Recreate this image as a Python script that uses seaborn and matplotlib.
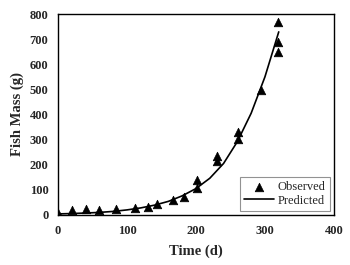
import matplotlib
matplotlib.use("Agg")
import matplotlib.pyplot as plt
import seaborn as sns
import pandas as pd

# Observed data
obs_time = [0, 20, 40, 60, 84, 111, 131, 144, 166, 183, 201, 201, 230, 230, 261, 261, 294, 319, 319, 319]
obs_mass = [7, 20, 23, 20, 23, 29, 32, 42, 60, 73, 106, 139, 216, 233, 301, 329, 497, 650, 687, 769]

# Predicted curve
pred_time = [0, 20, 40, 60, 80, 100, 120, 140, 160, 180, 200, 220, 240, 260, 280, 300, 320]
pred_mass = [4, 5.5, 7.5, 10, 14, 20, 28, 39, 54, 76, 105, 146, 205, 292, 405, 550, 729]

x_ticks = [0, 100, 200, 300, 400]
y_ticks = [0, 100, 200, 300, 400, 500, 600, 700, 800]

sns.set_style("white")
plt.rcParams['font.family'] = ['Liberation Serif', 'DejaVu Serif']

obs = pd.DataFrame({"t": obs_time, "m": obs_mass})
pred = pd.DataFrame({"t": pred_time, "m": pred_mass})

fig = plt.figure(figsize=(3.5, 2.65), dpi=100)
ax = fig.add_axes([0.166, 0.189, 0.788, 0.758])

sns.scatterplot(data=obs, x="t", y="m", marker="^", s=38, color="black",
                edgecolor="black", linewidth=0.5, ax=ax, label="Observed", zorder=3)
sns.lineplot(data=pred, x="t", y="m", color="black", linewidth=1.2, ax=ax,
             label="Predicted")

ax.set_xlim(0, 400)
ax.set_ylim(0, 800)
ax.set_xticks(x_ticks)
ax.set_yticks(y_ticks)
ax.set_xticklabels([str(v) for v in x_ticks], fontsize=9, fontweight="bold")
ax.set_yticklabels([str(v) for v in y_ticks], fontsize=9, fontweight="bold")
ax.tick_params(axis="both", direction="out", length=3, width=0.8, color="black", pad=4)
ax.set_xlabel("Time (d)", fontsize=10.5, fontweight="bold", labelpad=6)
ax.set_ylabel("Fish Mass (g)", fontsize=10.5, fontweight="bold", labelpad=4)

for s in ax.spines.values():
    s.set_color("black")
    s.set_linewidth(1.0)
    s.set_visible(True)

leg = ax.legend(loc="lower right", fontsize=9, frameon=True, fancybox=False,
                edgecolor="#777777", borderpad=0.3, handlelength=2.4,
                handletextpad=0.3, labelspacing=0.15, borderaxespad=0.35)
leg.get_frame().set_linewidth(0.8)

fig.savefig("out.png", dpi=100)
